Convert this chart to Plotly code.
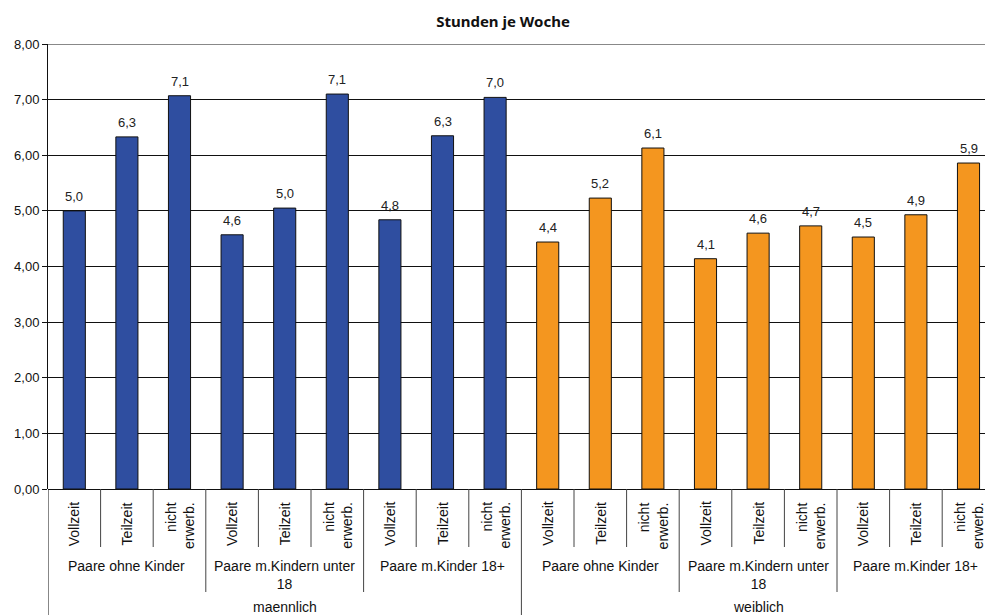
import plotly.graph_objects as go

# Weekly hours by employment status, household type and sex
employment = ["Vollzeit", "Teilzeit", "nicht<br>erwerb."]
households = ["Paare ohne Kinder", "Paare m.Kindern unter<br>18", "Paare m.Kinder 18+"]
sexes = ["maennlich", "weiblich"]

hours_male = [5.00, 6.33, 7.07, 4.57, 5.05, 7.10, 4.84, 6.35, 7.04]
hours_female = [4.44, 5.23, 6.13, 4.14, 4.60, 4.73, 4.53, 4.93, 5.86]

colors = {"maennlich": "#2F4EA0", "weiblich": "#F4961F"}

values = hours_male + hours_female
n_emp = len(employment)
n_hh = len(households)
per_sex = n_emp * n_hh
x_idx = list(range(len(values)))
bar_colors = [colors[sexes[i // per_sex]] for i in x_idx]

W, H = 985, 615
m_l, m_r, m_t, m_b = 48, 0, 44, 126
plot_h = H - m_t - m_b

FONT = "Liberation Sans, Arial, sans-serif"


def py(pixel_y):
    """Convert a pixel row to paper y coordinate."""
    return (H - m_b - pixel_y) / plot_h


fig = go.Figure(
    go.Bar(
        x=x_idx,
        y=values,
        width=0.42,
        marker=dict(color=bar_colors, line=dict(color="#111111", width=1)),
        hoverinfo="skip",
    )
)

annotations = []
shapes = []
label_font = dict(family=FONT, size=14, color="#111111")
line_col = "#444444"

# value labels above each bar
for i, v in zip(x_idx, values):
    annotations.append(dict(
        x=i, y=v, xref="x", yref="y", text=f"{v:.1f}".replace(".", ","),
        showarrow=False, xanchor="center", yanchor="bottom", yshift=5,
        font=dict(family=FONT, size=13, color="#222222"),
    ))

# innermost level: employment status, rotated
for i in x_idx:
    annotations.append(dict(
        x=i, y=py(500), xref="x", yref="paper", text=employment[i % n_emp],
        textangle=-90, showarrow=False, xanchor="center", yanchor="top",
        align="right", font=label_font,
    ))

# middle level: household type
for s in range(len(sexes)):
    for h in range(n_hh):
        start = s * per_sex + h * n_emp
        annotations.append(dict(
            x=start + (n_emp - 1) / 2, y=py(556), xref="x", yref="paper",
            text=households[h], showarrow=False, xanchor="center",
            yanchor="top", font=label_font,
        ))

# outer level: sex
for s, name in enumerate(sexes):
    annotations.append(dict(
        x=s * per_sex + (per_sex - 1) / 2, y=py(607), xref="x", yref="paper",
        text=name, showarrow=False, xanchor="center", yanchor="middle",
        font=label_font,
    ))

# separators between category cells
for i in range(1, len(values) + 1):
    xb = i - 0.5
    if i % per_sex == 0:
        bottom = py(H)
    elif i % n_emp == 0:
        bottom = py(592)
    else:
        bottom = py(547)
    shapes.append(dict(type="line", xref="x", yref="paper", x0=xb, x1=xb,
                       y0=0, y1=bottom, line=dict(color=line_col, width=1)))

# left axis line carried down through the label rows
shapes.append(dict(type="line", xref="x", yref="paper", x0=-0.5, x1=-0.5,
                   y0=0, y1=py(H), line=dict(color="#111111", width=1)))
# upper frame line
shapes.append(dict(type="line", xref="paper", yref="y", x0=0, x1=1,
                   y0=8, y1=8, line=dict(color="#888888", width=2)))

plot_w = W - m_l - m_r
cat_px = 52.6
x_max = -0.5 + plot_w / cat_px

fig.update_layout(
    width=W, height=H,
    margin=dict(l=m_l, r=m_r, t=m_t, b=m_b),
    paper_bgcolor="white", plot_bgcolor="white",
    separators=",.",
    showlegend=False,
    title=dict(text="<b>Stunden je Woche</b>", x=503 / W, xanchor="center",
               y=1 - 22 / H, yanchor="middle",
               font=dict(family="Noto Sans", size=15, color="#111111")),
    xaxis=dict(range=[-0.5, x_max], showticklabels=False, showgrid=False,
               zeroline=False, showline=False, ticks="", fixedrange=True),
    yaxis=dict(range=[0, 8], dtick=1, tickformat=".2f",
               showgrid=True, gridcolor="#111111", gridwidth=1,
               zeroline=True, zerolinecolor="#111111", zerolinewidth=1,
               showline=True, linecolor="#111111", linewidth=1,
               ticks="outside", ticklen=5, tickcolor="#111111",
               tickfont=dict(family=FONT, size=13, color="#111111"),
               fixedrange=True),
    annotations=annotations,
    shapes=shapes,
)

fig.write_html("out.html")
